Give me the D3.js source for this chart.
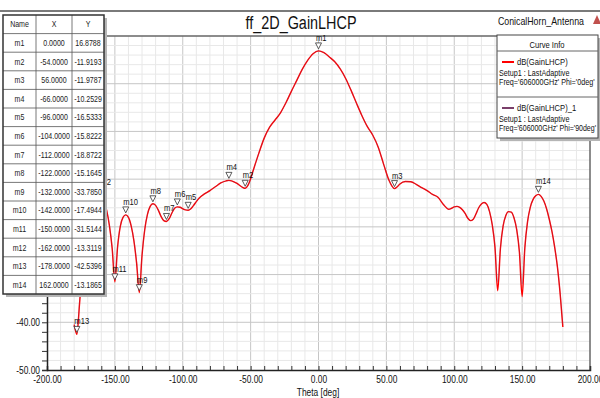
<!DOCTYPE html>
<html>
<head>
<meta charset="utf-8">
<script src="https://cdn.jsdelivr.net/npm/d3@7"></script>
<style>
  body { margin: 0; background: #fff; }
  svg { display: block; font-family: "Liberation Sans", Arial, sans-serif; }
</style>
</head>
<body>
<svg id="chart" width="600" height="398"></svg>
<script>
// theta in degrees
var theta = [-180,-178,-176,-174,-172,-170,-168,-166,-164,-162,-160,-158,-156,-154,-152,-150,-148,-146,-144,-142,
  -140,-138,-136,-134,-132,-130,-128,-126,-124,-122,-120,-118,-116,-114,-112,-110,-108,-106,-104,-102,-100,-98,-96,
  -94,-92,-90,-88,-84,-80,-76,-72,-68,-66,-64,-60,-56,-54,-52,-50,-48,-44,-40,-36,-32,-28,-24,-20,-16,-12,-8,-4,0,
  4,8,12,16,20,24,28,32,36,40,44,48,52,54,56,58,60,64,68,72,76,80,84,88,92,96,98,100,102,104,106,108,110,112,114,116,
  118,120,122,124,126,128,130,132,134,136,138,140,142,144,146,148,150,152,154,156,158,160,162,164,166,168,170,172,
  174,176,178,180];

// dB(GainLHCP), Phi = 0deg
var gainPhi0 = [-40.5,-42.54,-36.0,-28.5,-22.8,-18.8,-16.2,-14.5,-13.6,-13.31,-13.6,-14.6,-16.6,-19.8,-24.5,-31.51,-24.2,-19.9,-18.0,-17.49,
  -18.0,-19.8,-22.9,-27.6,-33.79,-26.0,-20.6,-17.4,-15.7,-15.16,-15.5,-16.5,-17.8,-18.7,-18.87,-18.3,-17.1,-16.1,-15.82,-15.9,-16.2,-16.45,-16.53,
  -16.2,-15.5,-14.7,-14.0,-13.1,-12.4,-11.6,-10.8,-10.35,-10.25,-10.35,-10.9,-11.7,-11.92,-11.3,-9.9,-8.1,-4.6,-1.4,0.9,2.4,3.9,6.0,8.4,10.7,13.0,14.9,16.3,16.88,
  16.5,15.6,14.6,13.1,11.1,8.6,5.9,3.3,1.0,-0.8,-3.3,-6.9,-10.3,-11.4,-11.98,-11.6,-11.0,-10.5,-10.55,-11.1,-11.8,-12.4,-13.2,-13.8,-15.3,-16.3,-16.1,-15.8,-15.7,-15.9,-16.4,-17.2,-18.2,-18.7,-18.4,-17.3,
  -16.0,-15.2,-14.9,-15.3,-16.8,-19.6,-24.3,-33.4,-24.6,-19.8,-17.6,-16.8,-16.9,-18.1,-20.6,-25.3,-34.6,-24.4,-18.9,-15.9,-14.3,-13.5,-13.19,-13.6,-14.6,-16.2,-18.4,-21.0,
  -24.3,-28.4,-34.0,-41.0];

// dB(GainLHCP)_1, Phi = 90deg
var gainPhi90 = [-40.2,-41.9,-35.6,-28.3,-22.7,-18.7,-16.2,-14.5,-13.6,-13.35,-13.6,-14.6,-16.6,-19.7,-24.2,-30.4,-24.0,-19.8,-18.0,-17.5,
  -18.1,-19.8,-22.8,-27.2,-32.6,-25.8,-20.5,-17.4,-15.7,-15.2,-15.5,-16.5,-17.8,-18.6,-18.8,-18.3,-17.1,-16.1,-15.85,-15.9,-16.2,-16.4,-16.5,
  -16.2,-15.5,-14.7,-14.0,-13.1,-12.4,-11.6,-10.8,-10.4,-10.3,-10.4,-10.9,-11.7,-11.9,-11.3,-9.9,-8.1,-4.6,-1.4,0.9,2.4,3.9,6.0,8.4,10.7,13.0,14.9,16.3,16.88,
  16.5,15.6,14.6,13.1,11.1,8.6,5.9,3.3,1.0,-0.8,-3.3,-6.9,-10.3,-11.4,-11.95,-11.6,-11.0,-10.5,-10.55,-11.1,-11.8,-12.4,-13.2,-13.8,-15.3,-16.3,-16.1,-15.8,-15.7,-15.9,-16.4,-17.2,-18.2,-18.7,-18.4,-17.3,
  -16.0,-15.2,-14.9,-15.3,-16.8,-19.5,-24.0,-31.5,-24.4,-19.8,-17.6,-16.8,-16.9,-18.1,-20.5,-25.0,-32.0,-24.2,-18.9,-15.9,-14.3,-13.5,-13.2,-13.6,-14.6,-16.2,-18.4,-21.0,
  -24.3,-28.4,-33.8,-40.6];

// markers (name, theta, value)
var markerNames = ["m1","m2","m3","m4","m5","m6","m7","m8","m9","m10","m11","m12","m13","m14"];
var markerX = [0,-54,56,-66,-96,-104,-112,-122,-132,-142,-150,-162,-178,162];
var markerY = [16.8788,-11.9193,-11.9787,-10.2529,-16.5333,-15.8222,-18.8722,-15.1645,-33.7850,-17.4944,-31.5144,-13.3119,-42.5396,-13.1865];

var xTicks = [-200,-150,-100,-50,0,50,100,150,200];
var yTicks = [-50,-40,-30,-20,-10,0,10,20];

var legendEntries = [
  {name: "dB(GainLHCP)", setup: "Setup1 : LastAdaptive", freq: "Freq='606000GHz' Phi='0deg'", color: "#ff0000"},
  {name: "dB(GainLHCP)_1", setup: "Setup1 : LastAdaptive", freq: "Freq='606000GHz' Phi='90deg'", color: "#7a3f6a"}
];

var svg = d3.select("#chart");
var plotL = 47, plotR = 590, plotT = 36, plotB = 370;
var NARROW = 0.8;

var x = d3.scaleLinear().domain([-200, 200]).range([plotL, plotR]);
var y = d3.scaleLinear().domain([-50, 20]).range([plotB, plotT]);
var fmt2 = v => v.toFixed(2);
var fmt4 = v => v.toFixed(4);

// squeeze text horizontally like the narrow font of the original
function narrow(sel, k, maxW) {
  sel.each(function () {
    var w = this.getComputedTextLength() * (k || NARROW);
    if (maxW && w > maxW) w = maxW;
    if (w > 0) d3.select(this).attr("textLength", w).attr("lengthAdjust", "spacingAndGlyphs");
  });
}

// header rule + titles
svg.append("line").attr("x1", 0).attr("x2", 600).attr("y1", 11).attr("y2", 11)
  .attr("stroke", "#7a7a7a").attr("stroke-width", 1.8);
svg.append("text").attr("x", 301).attr("y", 29).attr("text-anchor", "middle")
  .attr("font-size", 18).attr("fill", "#111").text("ff_2D_GainLHCP").call(narrow);
svg.append("text").attr("x", 584).attr("y", 25).attr("text-anchor", "end")
  .attr("font-size", 11).attr("fill", "#111").text("ConicalHorn_Antenna").call(narrow);
svg.append("path").attr("d", "M593,24 L597,15 L601,24 Z").attr("fill", "#c0504d");

// grid
var g = svg.append("g");
g.selectAll(".vgrid").data(d3.range(-190, 200, 10)).enter().append("line")
  .attr("x1", d => x(d)).attr("x2", d => x(d)).attr("y1", plotT).attr("y2", plotB)
  .attr("stroke", d => d % 50 === 0 ? "#c6c6c6" : "#e8e8e8").attr("stroke-width", 1);
g.selectAll(".hgrid").data(d3.range(-48, 20, 2)).enter().append("line")
  .attr("x1", plotL).attr("x2", plotR).attr("y1", d => y(d)).attr("y2", d => y(d))
  .attr("stroke", d => d % 10 === 0 ? "#c6c6c6" : "#e8e8e8").attr("stroke-width", 1);

// frame
svg.append("line").attr("x1", plotL).attr("x2", plotR).attr("y1", plotT).attr("y2", plotT).attr("stroke", "#666").attr("stroke-width", 1.5);
svg.append("line").attr("x1", plotR).attr("x2", plotR).attr("y1", plotT).attr("y2", plotB).attr("stroke", "#666").attr("stroke-width", 1.5);

// axes
var xAxis = d3.axisBottom(x).tickValues(d3.range(-200, 201, 10)).tickSize(-4)
  .tickFormat(d => xTicks.indexOf(d) >= 0 ? fmt2(d) : "");
var gx = svg.append("g").attr("transform", "translate(0," + plotB + ")").call(xAxis);
gx.select(".domain").attr("stroke", "#222").attr("stroke-width", 1.5);
gx.selectAll(".tick line").attr("stroke", "#333");
gx.selectAll(".tick text").attr("y", 6).attr("font-size", 10.5).attr("fill", "#111")
  .attr("font-family", "Liberation Sans, Arial, sans-serif").call(narrow);

var yAxis = d3.axisLeft(y).tickValues(d3.range(-50, 21, 2)).tickSize(5)
  .tickFormat(d => yTicks.indexOf(d) >= 0 ? fmt2(d) : "");
var gy = svg.append("g").attr("transform", "translate(" + plotL + ",0)").call(yAxis);
gy.select(".domain").attr("stroke", "#222").attr("stroke-width", 1.5);
gy.selectAll(".tick line").attr("stroke", "#333");
gy.selectAll(".tick text").attr("x", -7).attr("font-size", 10.5).attr("fill", "#111")
  .attr("font-family", "Liberation Sans, Arial, sans-serif").call(narrow);

svg.append("text").attr("x", 318).attr("y", 396).attr("text-anchor", "middle")
  .attr("font-size", 10.5).attr("fill", "#111").text("Theta [deg]").call(narrow);

// curves
var line0 = d3.line().x((d, i) => x(theta[i])).y(d => y(d)).curve(d3.curveMonotoneX);
svg.append("path").datum(gainPhi0).attr("d", line0)
  .attr("fill", "none").attr("stroke", legendEntries[0].color).attr("stroke-width", 1.4);
svg.append("path").datum(gainPhi90).attr("d", line0)
  .attr("fill", "none").attr("stroke", legendEntries[1].color).attr("stroke-width", 0.7).attr("stroke-opacity", 0.4);

// markers
var mk = svg.selectAll(".marker").data(markerNames).enter().append("g")
  .attr("transform", (d, i) => "translate(" + x(markerX[i]) + "," + y(markerY[i]) + ")");
mk.append("path").attr("d", "M-3,-8 L3,-8 L0,-2 Z").attr("fill", "#fff").attr("stroke", "#333").attr("stroke-width", 0.8);
mk.append("text").attr("x", -2.5).attr("y", -10).attr("font-size", 9.5).attr("fill", "#111").text(d => d).call(narrow);

// marker table
var tx = 3, ty = 15, rowH = 18.6, colX = [3, 36, 72, 104];
var rows = [["Name", "X", "Y"]].concat(markerNames.map((d, i) => [d, fmt4(markerX[i]), fmt4(markerY[i])]));
var tbl = svg.append("g");
var tblH = rows.length * rowH;
tbl.append("rect").attr("x", tx + 3).attr("y", ty + 3).attr("width", colX[3] - tx).attr("height", tblH).attr("fill", "#b5b5b5");
tbl.append("rect").attr("x", tx).attr("y", ty).attr("width", colX[3] - tx).attr("height", tblH).attr("fill", "#fff");
tbl.selectAll(".hl").data(d3.range(1, rows.length)).enter().append("line")
  .attr("x1", tx).attr("x2", colX[3]).attr("y1", d => ty + d * rowH).attr("y2", d => ty + d * rowH)
  .attr("stroke", "#555").attr("stroke-width", 0.8);
tbl.selectAll(".vl").data([1, 2]).enter().append("line")
  .attr("x1", d => colX[d]).attr("x2", d => colX[d]).attr("y1", ty).attr("y2", ty + tblH)
  .attr("stroke", "#555").attr("stroke-width", 0.8);
tbl.append("rect").attr("x", tx).attr("y", ty).attr("width", colX[3] - tx).attr("height", tblH)
  .attr("fill", "none").attr("stroke", "#333").attr("stroke-width", 1.5);
rows.forEach(function (r, i) {
  r.forEach(function (c, j) {
    tbl.append("text").attr("x", (colX[j] + colX[j + 1]) / 2).attr("y", ty + i * rowH + rowH / 2 + 3)
      .attr("text-anchor", "middle").attr("font-size", 9).attr("fill", "#222").text(c).call(narrow, 0.78, colX[j + 1] - colX[j] - 3);
  });
});

// legend
var lg = svg.append("g");
lg.append("rect").attr("x", 500).attr("y", 38).attr("width", 101).attr("height", 103).attr("fill", "#b5b5b5");
lg.append("rect").attr("x", 497).attr("y", 35).attr("width", 101).attr("height", 103)
  .attr("fill", "#fff").attr("stroke", "#444").attr("stroke-width", 1);
lg.append("text").attr("x", 547).attr("y", 47.5).attr("text-anchor", "middle").attr("font-size", 9.5).attr("fill", "#111").text("Curve Info").call(narrow);
lg.append("line").attr("x1", 497).attr("x2", 598).attr("y1", 51).attr("y2", 51).attr("stroke", "#666");
legendEntries.forEach(function (e, i) {
  var oy = 51 + i * 46;
  if (i > 0) lg.append("line").attr("x1", 497).attr("x2", 598).attr("y1", oy).attr("y2", oy).attr("stroke", "#666");
  lg.append("line").attr("x1", 502).attr("x2", 514).attr("y1", oy + 11).attr("y2", oy + 11).attr("stroke", e.color).attr("stroke-width", 2);
  lg.append("text").attr("x", 517).attr("y", oy + 14).attr("font-size", 9.5).attr("fill", "#111").text(e.name).call(narrow);
  lg.append("text").attr("x", 499).attr("y", oy + 24.5).attr("font-size", 9).attr("fill", "#111").text(e.setup).call(narrow);
  lg.append("text").attr("x", 499).attr("y", oy + 34).attr("font-size", 9).attr("fill", "#111").text(e.freq).call(narrow, NARROW, 97);
});
</script>
</body>
</html>
